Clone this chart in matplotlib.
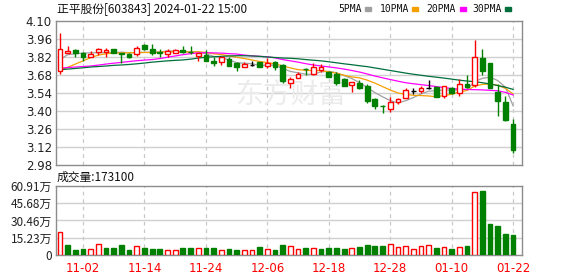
import numpy as np
import matplotlib
matplotlib.use('Agg')
import matplotlib.pyplot as plt
from matplotlib.patches import Rectangle

plt.rcParams['font.family'] = ['DejaVu Sans', 'Noto Sans CJK SC']
CJK = ['Noto Sans CJK SC', 'DejaVu Sans']

dates = ['10-30', '10-31', '11-01', '11-02', '11-03', '11-06', '11-07', '11-08', '11-09', '11-10',
         '11-13', '11-14', '11-15', '11-16', '11-17', '11-20', '11-21', '11-22', '11-23', '11-24',
         '11-27', '11-28', '11-29', '11-30', '12-01', '12-04', '12-05', '12-06', '12-07', '12-08',
         '12-11', '12-12', '12-13', '12-14', '12-15', '12-18', '12-19', '12-20', '12-21', '12-22',
         '12-25', '12-26', '12-27', '12-28', '12-29', '01-02', '01-03', '01-04', '01-05', '01-08',
         '01-09', '01-10', '01-11', '01-12', '01-15', '01-16', '01-17', '01-18', '01-19', '01-22']

opens = [3.71, 3.849, 3.874, 3.853, 3.818, 3.857, 3.86, 3.88, 3.849, 3.841,
         3.841, 3.913, 3.882, 3.857, 3.843, 3.853, 3.874, 3.858, 3.828, 3.836,
         3.79, 3.783, 3.802, 3.776, 3.745, 3.758, 3.779, 3.75, 3.779, 3.755,
         3.614, 3.653, 3.728, 3.686, 3.719, 3.706, 3.688, 3.646, 3.60, 3.62,
         3.594, 3.496, 3.441, 3.416, 3.468, 3.503, 3.558, 3.558, 3.579, 3.589,
         3.517, 3.576, 3.542, 3.61, 3.602, 3.815, 3.776, 3.55, 3.472, 3.299]
highs = [4.01, 3.905, 3.88, 3.861, 3.869, 3.89, 3.89, 3.882, 3.852, 3.853,
         3.905, 3.918, 3.92, 3.88, 3.88, 3.882, 3.905, 3.905, 3.849, 3.874,
         3.822, 3.82, 3.818, 3.78, 3.78, 3.789, 3.782, 3.81, 3.789, 3.765,
         3.667, 3.703, 3.735, 3.771, 3.766, 3.713, 3.70, 3.657, 3.625, 3.641,
         3.61, 3.50, 3.445, 3.507, 3.503, 3.581, 3.579, 3.597, 3.641, 3.594,
         3.597, 3.589, 3.647, 3.68, 3.952, 3.882, 3.776, 3.608, 3.517, 3.338]
lows = [3.69, 3.849, 3.82, 3.785, 3.818, 3.836, 3.822, 3.849, 3.771, 3.81,
        3.828, 3.872, 3.836, 3.822, 3.822, 3.853, 3.85, 3.843, 3.79, 3.79,
        3.752, 3.76, 3.752, 3.713, 3.74, 3.75, 3.745, 3.732, 3.719, 3.62,
        3.577, 3.653, 3.68, 3.683, 3.706, 3.667, 3.602, 3.594, 3.55, 3.569,
        3.465, 3.413, 3.387, 3.395, 3.454, 3.498, 3.532, 3.538, 3.569, 3.505,
        3.503, 3.535, 3.517, 3.576, 3.589, 3.68, 3.58, 3.364, 3.325, 3.076]
closes = [3.88, 3.87, 3.853, 3.818, 3.843, 3.88, 3.875, 3.849, 3.841, 3.822,
          3.888, 3.88, 3.853, 3.849, 3.869, 3.874, 3.857, 3.855, 3.849, 3.79,
          3.775, 3.818, 3.752, 3.745, 3.766, 3.758, 3.745, 3.771, 3.745, 3.63,
          3.646, 3.688, 3.725, 3.74, 3.74, 3.667, 3.62, 3.594, 3.623, 3.579,
          3.478, 3.437, 3.437, 3.472, 3.491, 3.561, 3.558, 3.581, 3.579, 3.511,
          3.594, 3.538, 3.61, 3.589, 3.818, 3.713, 3.581, 3.48, 3.33, 3.097]

ma5 = [3.80, 3.838, 3.845, 3.85, 3.853, 3.853, 3.854, 3.853, 3.858, 3.853,
       3.855, 3.856, 3.857, 3.858, 3.868, 3.865, 3.860, 3.861, 3.861, 3.845,
       3.825, 3.817, 3.797, 3.776, 3.771, 3.768, 3.753, 3.757, 3.757, 3.730,
       3.708, 3.697, 3.686, 3.685, 3.705, 3.709, 3.698, 3.675, 3.652, 3.621,
       3.583, 3.543, 3.511, 3.481, 3.463, 3.480, 3.504, 3.533, 3.554, 3.558,
       3.565, 3.561, 3.566, 3.568, 3.630, 3.654, 3.663, 3.637, 3.585, 3.440]
ma10 = [3.717, 3.74, 3.765, 3.79, 3.815, 3.835, 3.845, 3.85, 3.852, 3.853,
        3.854, 3.855, 3.855, 3.858, 3.861, 3.86, 3.858, 3.859, 3.86, 3.856,
        3.845, 3.839, 3.829, 3.818, 3.808, 3.797, 3.785, 3.777, 3.767, 3.751,
        3.735, 3.722, 3.716, 3.715, 3.714, 3.705, 3.694, 3.678, 3.665, 3.658,
        3.64, 3.617, 3.59, 3.563, 3.54, 3.53, 3.522, 3.52, 3.517, 3.511,
        3.52, 3.53, 3.548, 3.56, 3.594, 3.607, 3.61, 3.6, 3.576, 3.532]
ma20 = [3.733, 3.738, 3.742, 3.746, 3.75, 3.757, 3.765, 3.772, 3.778, 3.785,
        3.791, 3.796, 3.80, 3.808, 3.818, 3.828, 3.838, 3.846, 3.852, 3.853,
        3.852, 3.85, 3.846, 3.843, 3.835, 3.829, 3.825, 3.822, 3.813, 3.80,
        3.79, 3.78, 3.768, 3.758, 3.75, 3.743, 3.735, 3.726, 3.715, 3.703,
        3.688, 3.672, 3.658, 3.645, 3.632, 3.62, 3.612, 3.605, 3.598, 3.59,
        3.582, 3.575, 3.57, 3.567, 3.566, 3.564, 3.561, 3.557, 3.545, 3.525]
ma30 = [3.721, 3.726, 3.731, 3.736, 3.742, 3.746, 3.75, 3.755, 3.758, 3.762,
        3.767, 3.773, 3.78, 3.785, 3.79, 3.794, 3.797, 3.803, 3.812, 3.818,
        3.822, 3.825, 3.828, 3.83, 3.83, 3.828, 3.825, 3.82, 3.816, 3.812,
        3.81, 3.806, 3.80, 3.795, 3.79, 3.783, 3.775, 3.767, 3.76, 3.752,
        3.745, 3.735, 3.725, 3.715, 3.705, 3.695, 3.686, 3.678, 3.67, 3.663,
        3.656, 3.648, 3.64, 3.633, 3.628, 3.62, 3.61, 3.598, 3.585, 3.568]

# volume in 万
volume = [20.0, 8.8, 4.4, 5.3, 5.0, 9.4, 5.9, 5.9, 8.8, 4.4,
          7.7, 6.2, 5.3, 5.3, 4.1, 4.1, 6.2, 6.2, 5.9, 6.2,
          6.2, 4.1, 5.3, 4.4, 4.1, 4.1, 7.1, 5.0, 4.4, 8.8,
          7.7, 5.0, 6.2, 6.5, 5.3, 6.2, 6.2, 5.3, 5.9, 7.1,
          8.8, 7.9, 7.9, 9.4, 6.8, 7.7, 5.0, 7.7, 8.5, 6.2,
          6.8, 5.3, 6.8, 7.9, 55.9, 56.5, 27.4, 25.6, 18.5, 17.31]
vol_up = [1, 0, 0, 0, 1, 1, 0, 0, 0, 0,
          1, 0, 0, 0, 1, 1, 0, 0, 1, 0,
          0, 1, 0, 0, 1, 1, 0, 1, 0, 0,
          1, 1, 0, 1, 0, 0, 0, 0, 1, 0,
          0, 0, 0, 1, 1, 1, 1, 1, 1, 0,
          1, 0, 1, 0, 1, 0, 0, 0, 0, 0]

price_ticks = [4.10, 3.96, 3.82, 3.68, 3.54, 3.40, 3.26, 3.12, 2.98]
vol_ticks = [0, 15.23, 30.46, 45.68, 60.91]
vol_labels = ['0', '15.23万', '30.46万', '45.68万', '60.91万']

RED = '#ff0000'
GREEN = '#008000'
ma_colors = ['#a0a0a0', '#f5a000', '#ff00ff', '#006f3c']

W, H = 578, 276
fig = plt.figure(figsize=(W / 100, H / 100), dpi=100)


def box(l, t, r, b):
    return [l / W, 1 - b / H, (r - l) / W, (b - t) / H]


ax = fig.add_axes(box(56, 21, 522, 165))
axv = fig.add_axes(box(56, 186, 522, 255))

n = len(closes)
x = np.arange(n)
xlim = (-0.52, n + 0.16)
tick_pos = list(range(3, n, 8))

for a in (ax, axv):
    a.set_xlim(*xlim)
    for s in a.spines.values():
        s.set_color('#8c8c8c')
        s.set_linewidth(1.0)
    a.tick_params(length=0, labelsize=8.5, colors='#222222', pad=3)
    for p in tick_pos:
        a.axvline(p, color='#c8c8c8', lw=0.9, ls=(0, (3, 3)), zorder=0)

# price panel
ax.set_ylim(price_ticks[-1], price_ticks[0])
ax.set_yticks(price_ticks)
ax.set_yticklabels([f'{v:.2f}' for v in price_ticks])
ax.set_xticks([])
for v in price_ticks[1:-1]:
    ax.axhline(v, color='#d0d0d0', lw=1.0, zorder=0)

# watermark
ax.text(0.385, 0.48, '东方财富', transform=ax.transAxes, ha='left', va='center',
        fontsize=20, color='#ebebeb', family=CJK, zorder=0)

for ma, c in zip([ma5, ma10, ma20, ma30], ma_colors):
    ax.plot(x, ma, color=c, lw=0.9, zorder=2)

bw = 0.62
for i in range(n):
    o, h, l, c = opens[i], highs[i], lows[i], closes[i]
    if c > o:
        col, face = RED, 'white'
    elif c < o:
        col, face = GREEN, GREEN
    else:
        col, face = 'black', 'black'
    ax.vlines(i, l, h, color=col, lw=1.0, zorder=3)
    ax.bar(i, max(abs(c - o), 0.001), bottom=min(o, c), width=bw,
           facecolor=face, edgecolor=col, linewidth=1.0, zorder=4)

# volume panel
axv.set_ylim(0, vol_ticks[-1])
axv.set_yticks(vol_ticks)
axv.set_yticklabels(vol_labels, family=CJK)
for v in vol_ticks[1:-1]:
    axv.axhline(v, color='#d0d0d0', lw=1.0, zorder=0)
for i in range(n):
    if vol_up[i]:
        axv.bar(i, volume[i], width=bw, facecolor='white', edgecolor=RED, linewidth=1.0, zorder=3)
    else:
        axv.bar(i, volume[i], width=bw, facecolor=GREEN, edgecolor=GREEN, linewidth=1.0, zorder=3)
axv.set_xticks(tick_pos)
axv.set_xticklabels([dates[p] for p in tick_pos], color=RED, fontsize=8.5)
axv.tick_params(axis='x', pad=5)

# header texts
fig.text(57 / W, 1 - 9 / H, '正平股份[603843] 2024-01-22 15:00', ha='left', va='center',
         fontsize=8.5, family=CJK, color='#111111')
fig.text(57 / W, 1 - 177 / H, '成交量:173100', ha='left', va='center',
         fontsize=8.5, family=CJK, color='#111111')

leg = [('5PMA', 338, 365), ('10PMA', 380, 412), ('20PMA', 426, 460), ('30PMA', 472, 505)]
for (name, tx, mx), c in zip(leg, ma_colors):
    fig.text(tx / W, 1 - 9 / H, name, ha='left', va='center', fontsize=7,
             family='DejaVu Sans Mono', color='#111111')
    fig.add_artist(Rectangle((mx / W, 1 - 10.5 / H), 6 / W, 3 / H,
                             transform=fig.transFigure, color=c))

fig.savefig('out.png', dpi=100)
